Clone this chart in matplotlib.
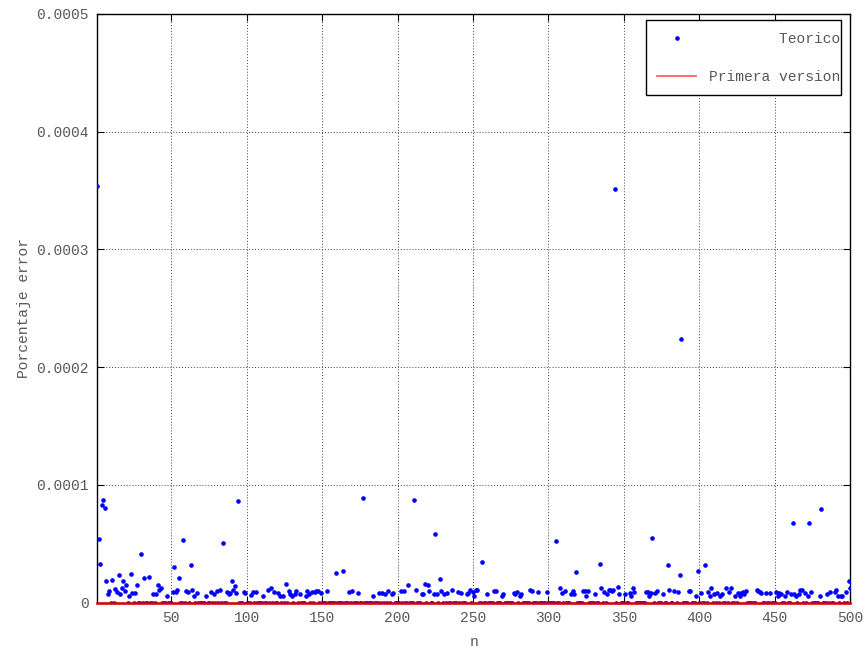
import matplotlib
matplotlib.use("Agg")
import matplotlib.pyplot as plt
from matplotlib.patches import Rectangle
import numpy as np

# n values with a non-zero "Teorico" error (all other n are 0)
teorico_n = [
    1, 2, 3, 4, 5, 6, 7, 8, 9, 11, 13, 14, 15, 16, 17, 18, 19, 20, 22, 23,
    24, 26, 27, 30, 32, 35, 38, 40, 41, 42, 43, 47, 51, 52, 53, 54, 55, 58,
    60, 61, 63, 64, 65, 67, 73, 76, 78, 80, 82, 84, 87, 88, 89, 90, 91, 92,
    93, 94, 98, 99, 103, 104, 106, 111, 114, 116, 118, 121, 122, 124, 126,
    128, 129, 130, 132, 133, 135, 139, 140, 141, 143, 145, 146, 147, 149,
    153, 159, 164, 168, 170, 174, 177, 184, 188, 190, 192, 194, 196, 197,
    202, 204, 207, 211, 212, 216, 217, 218, 220, 221, 224, 225, 226, 228,
    229, 231, 233, 236, 240, 242, 246, 247, 248, 250, 251, 252, 253, 256,
    259, 264, 265, 269, 270, 277, 278, 279, 281, 282, 288, 289, 293, 299,
    305, 308, 309, 311, 315, 316, 317, 318, 323, 324, 325, 326, 331, 334,
    335, 337, 339, 340, 341, 342, 343, 344, 346, 347, 351, 354, 355, 356,
    357, 365, 366, 367, 368, 369, 371, 372, 376, 379, 380, 383, 384, 386,
    387, 388, 393, 394, 398, 399, 401, 404, 406, 407, 408, 410, 412, 414,
    415, 418, 420, 421, 424, 426, 427, 428, 429, 430, 431, 438, 439, 440,
    441, 444, 447, 451, 452, 453, 454, 457, 458, 461, 462, 463, 464, 466,
    467, 468, 470, 472, 473, 474, 480, 481, 485, 487, 490, 491, 492, 494,
    495, 497, 499, 500,
]
teorico_val = [
    3.54e-4, 5.42e-5, 3.32e-5, 8.31e-5, 8.70e-5, 8.02e-5, 1.81e-5, 7.1e-6, 1.02e-5, 1.93e-5,
    1.13e-5, 9.4e-6, 2.32e-5, 7.1e-6, 1.22e-5, 1.81e-5, 1.02e-5, 1.50e-5, 6.0e-6, 2.41e-5,
    7.9e-6, 7.9e-6, 1.50e-5, 4.11e-5, 2.10e-5, 2.21e-5, 7.1e-6, 7.1e-6, 1.50e-5, 1.10e-5,
    1.22e-5, 6.0e-6, 9.1e-6, 3.00e-5, 9.1e-6, 1.10e-5, 2.10e-5, 5.30e-5,
    1.02e-5, 9.1e-6, 3.21e-5, 1.10e-5, 6.0e-6, 7.9e-6, 6.0e-6, 9.1e-6, 7.1e-6, 1.02e-5, 1.10e-5, 5.03e-5,
    9.1e-6, 7.4e-6, 8.2e-6, 1.81e-5, 1.10e-5, 1.42e-5,
    8.2e-6, 8.61e-5, 9.1e-6, 8.2e-6, 6.2e-6, 9.1e-6, 9.1e-6, 6.0e-6, 1.10e-5, 1.22e-5, 9.1e-6, 8.2e-6, 6.0e-6, 6.0e-6, 1.62e-5,
    1.02e-5, 7.1e-6, 6.0e-6, 7.1e-6, 1.02e-5, 7.1e-6, 6.0e-6, 1.02e-5, 7.1e-6, 9.1e-6, 9.1e-6, 1.02e-5, 1.02e-5, 8.2e-6,
    1.02e-5, 2.52e-5, 2.72e-5, 9.1e-6, 1.02e-5, 8.2e-6, 8.93e-5, 6.0e-6, 8.2e-6, 8.2e-6, 7.1e-6, 1.02e-5, 7.1e-6, 8.2e-6,
    1.02e-5, 1.02e-5, 1.50e-5, 8.73e-5, 1.10e-5, 7.1e-6, 7.1e-6, 1.62e-5, 1.50e-5, 1.02e-5, 7.1e-6, 5.84e-5, 7.1e-6, 2.01e-5,
    1.02e-5, 7.1e-6, 8.2e-6, 1.10e-5, 9.1e-6, 8.2e-6, 7.1e-6, 8.2e-6, 1.10e-5, 9.1e-6, 6.0e-6, 1.10e-5, 1.10e-5, 3.43e-5,
    7.1e-6, 1.02e-5, 1.02e-5, 6.0e-6, 7.1e-6, 8.2e-6, 7.1e-6, 9.1e-6, 6.0e-6, 7.1e-6, 1.10e-5, 1.02e-5, 9.1e-6, 9.1e-6,
    5.21e-5, 1.22e-5, 8.2e-6, 1.02e-5, 7.1e-6, 1.02e-5, 7.1e-6, 2.61e-5, 1.02e-5, 1.02e-5, 6.0e-6, 1.02e-5, 7.1e-6, 3.32e-5,
    1.22e-5, 9.1e-6, 7.1e-6, 1.10e-5, 1.10e-5, 1.02e-5, 1.10e-5, 3.51e-4, 1.32e-5, 7.1e-6, 7.1e-6, 8.2e-6, 6.0e-6, 1.22e-5,
    9.1e-6, 9.1e-6, 9.1e-6, 6.0e-6, 8.2e-6, 5.53e-5, 8.2e-6, 1.02e-5, 7.1e-6, 3.23e-5, 1.10e-5, 1.02e-5, 4.80e-4, 9.1e-6,
    2.32e-5, 2.24e-4, 1.02e-5, 1.02e-5, 6.0e-6, 2.72e-5, 8.2e-6, 3.21e-5, 9.1e-6, 6.0e-6, 1.22e-5, 7.1e-6, 8.2e-6, 6.0e-6,
    7.1e-6, 1.22e-5, 9.1e-6, 1.22e-5, 6.0e-6, 8.2e-6, 6.0e-6, 8.2e-6, 9.1e-6, 7.1e-6, 1.02e-5, 1.10e-5, 1.02e-5, 9.1e-6,
    8.2e-6, 8.2e-6, 8.2e-6, 9.1e-6, 6.0e-6, 8.2e-6, 7.1e-6, 6.0e-6, 9.1e-6, 7.1e-6, 6.80e-5, 7.1e-6, 6.0e-6, 7.1e-6,
    1.10e-5, 1.10e-5, 8.2e-6, 6.0e-6, 6.74e-5, 9.1e-6, 6.0e-6, 7.99e-5, 7.1e-6, 9.1e-6, 9.1e-6, 1.10e-5, 6.0e-6, 6.0e-6,
    6.0e-6, 9.1e-6, 1.81e-5, 1.22e-5,
]

n = np.arange(1, 501)
teorico = np.zeros(500)
teorico[np.array(teorico_n) - 1] = teorico_val
primera = np.zeros(500)

FONT = "Liberation Mono"
GREY = "#585858"
FS = 10.5

fig = plt.figure(figsize=(8.65, 6.51), dpi=100)
ax = fig.add_axes([0.1126, 0.0742, 0.8701, 0.9043])

ax.plot(n, teorico, linestyle="none", marker="o", markersize=2.3,
        color="#0000ff", label="        Teorico", zorder=2.6)
ax.plot(n, primera, color="#e00000", linewidth=1.8, label="Primera version",
        zorder=2.7, clip_on=False)

ax.set_xlim(1, 500)
ax.set_ylim(0, 0.0005)
ax.set_xticks(np.arange(50, 501, 50))
ax.set_yticks([0, 0.0001, 0.0002, 0.0003, 0.0004, 0.0005])
ax.set_yticklabels(["0", "0.0001", "0.0002", "0.0003", "0.0004", "0.0005"])

ax.grid(True, color="#404040", linestyle=(0, (1, 2)), linewidth=0.7)
ax.tick_params(direction="in", length=5, width=0.8, top=True, right=True,
               labelsize=FS, labelcolor=GREY, pad=6)
for lab in ax.get_xticklabels() + ax.get_yticklabels():
    lab.set_fontfamily(FONT)
for sp in ax.spines.values():
    sp.set_color("black")
    sp.set_linewidth(1.0)

ax.set_xlabel("n", fontfamily=FONT, fontsize=FS, color=GREY, labelpad=7)
ax.set_ylabel("Porcentaje error", fontfamily=FONT, fontsize=FS, color=GREY,
              labelpad=4)

# legend box drawn like gnuplot's key frame
ax.add_patch(Rectangle((0.7285, 0.8624), 0.26, 0.1279, transform=ax.transAxes,
                       facecolor="white", edgecolor="black", linewidth=1.0,
                       zorder=4))
leg = ax.legend(loc="upper right", bbox_to_anchor=(0.9875, 0.9686),
                prop={"family": FONT, "size": FS}, frameon=False,
                borderpad=0, labelspacing=1.62, handlelength=2.7,
                handletextpad=0.9, borderaxespad=0)
leg.set_zorder(5)
leg.get_lines()[1].set_color("#ff5050")
leg.get_lines()[1].set_linewidth(1.2)
for t in leg.get_texts():
    t.set_color(GREY)

fig.savefig("out.png", dpi=100)
